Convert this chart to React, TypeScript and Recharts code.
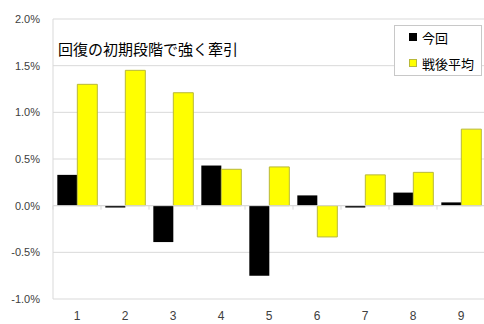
import React from 'react';
import { BarChart, Bar, XAxis, YAxis, CartesianGrid, ReferenceLine } from 'recharts';

const categories = ['1', '2', '3', '4', '5', '6', '7', '8', '9'];
const konkai = [0.33, -0.02, -0.39, 0.43, -0.75, 0.11, -0.02, 0.14, 0.035];
const sengoHeikin = [1.3, 1.45, 1.21, 0.39, 0.415, -0.335, 0.33, 0.357, 0.82];
const yTicks = [-1.0, -0.5, 0.0, 0.5, 1.0, 1.5, 2.0];
const seriesNames = ['今回', '戦後平均'];
const titleText = '回復の初期段階で強く牽引';

const data = categories.map((c, i) => ({ name: c, a: konkai[i], b: sengoHeikin[i] }));

const CHART_W = 490;
const CHART_H = 324;
const X_H = 25;
const M = { top: 19, right: 5, bottom: 0, left: 0 };
const Y_W = 53;
const plotTop = M.top;
const plotH = CHART_H - M.top - M.bottom - X_H;
const zeroY = plotTop + plotH * (2.0 / 3.0);
const bandW = (CHART_W - M.left - M.right - Y_W) / categories.length;

const XTick = (props: any) => {
  const { x, y, payload, index } = props;
  return (
    <g>
      <line x1={x - bandW / 2} x2={x - bandW / 2} y1={zeroY} y2={zeroY + 4} stroke="#d9d9d9" />
      {index === categories.length - 1 && (
        <line x1={x + bandW / 2} x2={x + bandW / 2} y1={zeroY} y2={zeroY + 4} stroke="#d9d9d9" />
      )}
      <text x={x} y={y} dy="0.71em" textAnchor="middle" fill="#404040" fontSize={12}
        fontFamily="'Liberation Sans', Arial, sans-serif">{payload.value}</text>
    </g>
  );
};

const LegendBox = () => (
  <div style={{ position: 'absolute', left: 394, top: 25, width: 86, height: 49, border: '1px solid #c8c8c8', background: '#fff',
    fontFamily: "'Noto Sans CJK JP', sans-serif", fontSize: 13, color: '#000' }}>
    <div style={{ position: 'absolute', left: 14, top: 2, display: 'flex', alignItems: 'center', height: 18, whiteSpace: 'nowrap' }}>
      <span style={{ width: 6, height: 6, background: '#000', border: '1px solid #000', display: 'inline-block', marginRight: 5 }} />
      <span>{seriesNames[0]}</span>
    </div>
    <div style={{ position: 'absolute', left: 14, top: 28, display: 'flex', alignItems: 'center', height: 18, whiteSpace: 'nowrap' }}>
      <span style={{ width: 6, height: 6, background: '#ffff00', border: '1px solid #b8b83a', display: 'inline-block', marginRight: 5 }} />
      <span>{seriesNames[1]}</span>
    </div>
  </div>
);

export default function App() {
  return (
    <div style={{ position: 'absolute', left: 0, top: 0, width: 484, height: 324, overflow: 'hidden', background: '#fff' }}>
      <BarChart width={CHART_W} height={CHART_H} data={data} margin={M} barCategoryGap="9%" barGap={0}>
        <CartesianGrid vertical={false} stroke="#d9d9d9" />
        <XAxis dataKey="name" height={X_H} axisLine={false} tickLine={false} tickMargin={6} tick={<XTick />} interval={0} />
        <YAxis width={Y_W} domain={[-1.0, 2.0]} ticks={yTicks} axisLine={{ stroke: '#d9d9d9' }} tickLine={false}
          tickSize={0} tickMargin={13}
          tickFormatter={(v: number) => `${v.toFixed(1)}%`}
          tick={{ fill: '#404040', fontSize: 11, fontFamily: "'Liberation Sans', Arial, sans-serif" }} />
        <ReferenceLine y={0} stroke="#d9d9d9" />
        <Bar dataKey="a" name={seriesNames[0]} fill="#000000" isAnimationActive={false} />
        <Bar dataKey="b" name={seriesNames[1]} fill="#ffff00" stroke="#b8b83a" strokeWidth={1} isAnimationActive={false} />
      </BarChart>
      <LegendBox />
      <div style={{ position: 'absolute', left: 58, top: 39, fontSize: 15, fontFamily: "'Noto Sans CJK JP', sans-serif",
        color: '#000', whiteSpace: 'nowrap', lineHeight: '20px' }}>{titleText}</div>
    </div>
  );
}
